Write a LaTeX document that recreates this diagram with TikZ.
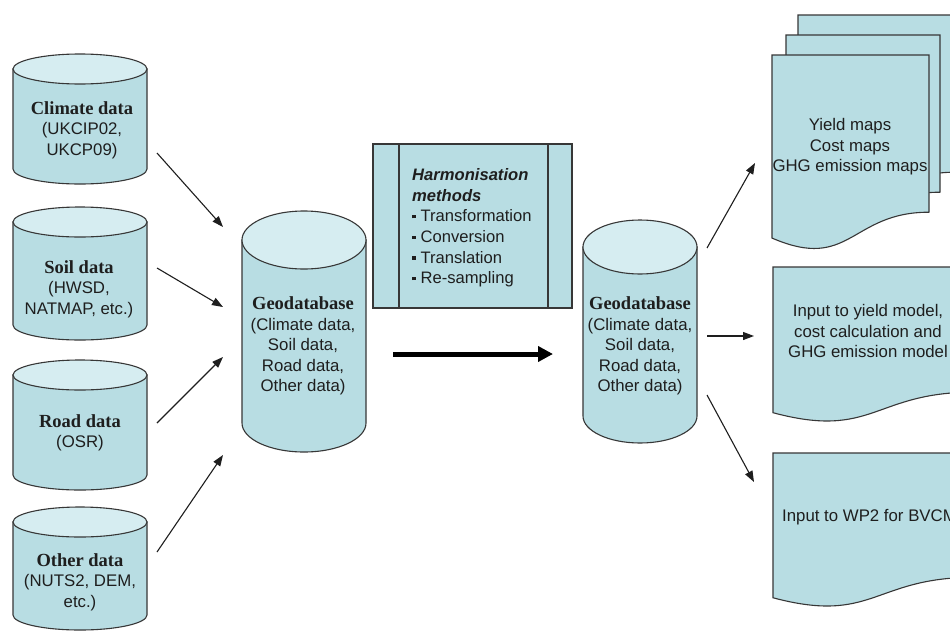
\documentclass[tikz,border=0pt]{standalone}
\usepackage{fontspec}
\setmainfont{Liberation Sans}
\newfontfamily\titleserif{Liberation Serif}
\usetikzlibrary{arrows.meta}

\definecolor{cylbodyc}{RGB}{184,221,227}
\definecolor{cyltopc}{RGB}{214,237,241}
\definecolor{edgec}{RGB}{55,55,55}
\definecolor{inkc}{RGB}{30,30,30}

\tikzset{
  shapeline/.style={draw=edgec, line width=1.1pt},
  cylbody/.style={shapeline, fill=cylbodyc},
  cyltop/.style={shapeline, fill=cyltopc},
  docbox/.style={shapeline, fill=cylbodyc},
  feed/.style={draw=inkc, line width=1.1pt, -{Triangle[length=11pt,width=8pt]}},
  bigflow/.style={draw=black, line width=5pt, -{Triangle[length=15pt,width=15pt]}},
  lbl/.style={text=inkc, align=center, inner sep=0pt,
    font=\fontsize{16.8}{20.5}\selectfont},
  harmtext/.style={text=inkc, align=left, inner sep=0pt,
    font=\fontsize{16.6}{20.6}\selectfont},
}

% database cylinder: centre x, top y, bottom y, x radius, y radius
\newcommand\dbcyl[5]{%
  \filldraw[cylbody] (#1-#4,#2+#5) -- (#1-#4,#3-#5)
    arc[start angle=180,end angle=360,x radius=#4pt,y radius=#5pt]
    -- (#1+#4,#2+#5) -- cycle;
  \filldraw[cyltop] (#1,#2+#5) ellipse[x radius=#4pt,y radius=#5pt];
}
% document sheet with wavy lower edge: left x, top y, width, height
\newcommand\docsheet[4]{%
  \filldraw[docbox] (#1,#2) -- (#1+#3,#2) -- (#1+#3,#2+0.802*#4)
    .. controls (#1+0.5*#3,#2+0.802*#4) and (#1+0.5*#3,#2+1.107*#4) ..
    (#1,#2+0.934*#4) -- cycle;
}
\newcommand\titletxt[1]{{\titleserif\bfseries\fontsize{18.5}{20.5}\selectfont #1}}
\newcommand\sqbul{\rule[0.22em]{3.4pt}{3.4pt}\hspace{5pt}}

\begin{document}
\begin{tikzpicture}[x=1pt,y=-1pt]
  \fill[white] (0,0) rectangle (950,635);
  \clip (0,0) rectangle (950,635);

  % source databases
  \dbcyl{80}{54}{184}{67}{15}
  \dbcyl{80}{207}{340}{67}{15}
  \dbcyl{80}{360}{490}{67}{15}
  \dbcyl{80}{507}{630}{67}{15}

  \node[lbl] (climate) at (82,130) {\titletxt{Climate data}\\(UKCIP02,\\UKCP09)};
  \node[lbl] (soil) at (79,289) {\titletxt{Soil data}\\(HWSD,\\NATMAP, etc.)};
  \node[lbl] (road) at (80,433) {\titletxt{Road data}\\(OSR)};
  \node[lbl] (other) at (80,582) {\titletxt{Other data}\\(NUTS2, DEM,\\etc.)};

  % first geodatabase
  \dbcyl{304}{211}{452}{62}{29}
  \node[lbl] (geo1) at (303,346) {\titletxt{Geodatabase}\\(Climate data,\\Soil data,\\Road data,\\Other data)};

  % harmonisation methods box
  \filldraw[docbox] (373,144) rectangle (572,308);
  \draw[shapeline] (399,144) -- (399,308);
  \draw[shapeline] (548,144) -- (548,308);
  \node[harmtext, anchor=west] (harm) at (412,228)
    {\textbf{\textit{Harmonisation}}\\\textbf{\textit{methods}}\\
     \sqbul Transformation\\\sqbul Conversion\\\sqbul Translation\\\sqbul Re-sampling};

  % second geodatabase
  \dbcyl{640}{220}{443}{57}{27}
  \node[lbl] (geo2) at (640,346) {\titletxt{Geodatabase}\\(Climate data,\\Soil data,\\Road data,\\Other data)};

  % output documents
  \docsheet{798}{15}{157}{196}
  \docsheet{786}{35}{154}{196}
  \docsheet{772}{55}{157}{196}
  \node[lbl] (maps) at (850,147) {Yield maps\\Cost maps\\GHG emission maps};

  \docsheet{773}{267}{201}{156}
  \node[lbl] (models) at (868,331) {Input to yield model,\\cost calculation and\\GHG emission model};

  \docsheet{773}{453}{201}{155}
  \node[lbl, anchor=west] (wp2) at (782,517) {Input to WP2 for BVCM};

  % connector end points
  \coordinate (climateout) at (157,153);
  \coordinate (soilout) at (157,268);
  \coordinate (roadout) at (157,423);
  \coordinate (otherout) at (157,552);
  \coordinate (geo1inA) at (223,227);
  \coordinate (geo1inB) at (223,307);
  \coordinate (geo1inC) at (223,357);
  \coordinate (geo1inD) at (223,455);
  \coordinate (geo1out) at (393,354);
  \coordinate (geo2in) at (553,354);
  \coordinate (geo2outA) at (707,248);
  \coordinate (geo2outB) at (707,336);
  \coordinate (geo2outC) at (707,395);
  \coordinate (mapsin) at (755,163);
  \coordinate (modelsin) at (754,336);
  \coordinate (wp2in) at (754,482);

  \draw[feed] (climateout) -- (geo1inA);
  \draw[feed] (soilout) -- (geo1inB);
  \draw[feed] (roadout) -- (geo1inC);
  \draw[feed] (otherout) -- (geo1inD);
  \draw[bigflow] (geo1out) -- (geo2in);
  \draw[feed] (geo2outA) -- (mapsin);
  \draw[feed] (geo2outB) -- (modelsin);
  \draw[feed] (geo2outC) -- (wp2in);
\end{tikzpicture}
\end{document}
